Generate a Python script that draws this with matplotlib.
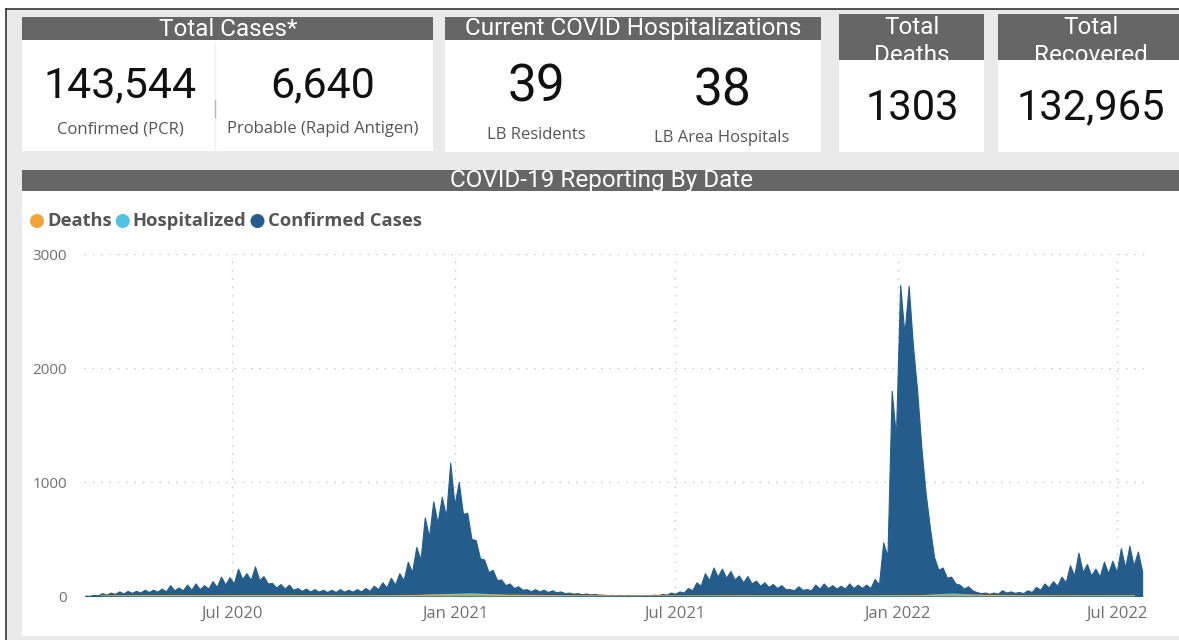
import numpy as np
import matplotlib
matplotlib.use("Agg")
import matplotlib.pyplot as plt
from matplotlib.patches import Rectangle, Circle
import matplotlib.dates as mdates

# ---------------------------
# Data
# ---------------------------
kpi_cases = ["143,544", "6,640"]
kpi_cases_labels = ["Confirmed (PCR)", "Probable (Rapid Antigen)"]
kpi_hosp = ["39", "38"]
kpi_hosp_labels = ["LB Residents", "LB Area Hospitals"]
kpi_deaths = "1303"
kpi_recovered = "132,965"

series_names = ["Deaths", "Hospitalized", "Confirmed Cases"]
series_colors = ["#f2a43a", "#4fc3df", "#245d8c"]

# weekly high / weekly low of daily confirmed cases, weeks starting 2020-03-01
weekly_peak = [
    3, 10, 25, 30, 40, 45, 45, 55, 55, 65,
    95, 75, 100, 110, 95, 130, 170, 165, 240, 200,
    260, 175, 115, 105, 100, 70, 65, 60, 55, 55,
    60, 55, 60, 70, 90, 120, 160, 200, 300, 430,
    690, 830, 870, 1170, 1000, 730, 490, 320, 230, 145,
    110, 85, 60, 60, 55, 50, 40, 30, 25, 22,
    18, 12, 10, 10, 10, 8, 8, 12, 18, 30,
    40, 70, 120, 200, 250, 240, 220, 180, 175, 135,
    120, 105, 95, 60, 85, 60, 100, 110, 95, 90,
    110, 100, 100, 150, 470, 1800, 2730, 2720, 1800, 900,
    340, 250, 170, 100, 85, 35, 30, 30, 50, 40,
    35, 50, 80, 110, 130, 170, 270, 380, 280, 240,
    300, 310, 420, 440, 390,
]
weekly_low = [
    1, 5, 12, 18, 22, 28, 30, 35, 38, 40,
    50, 50, 55, 60, 65, 80, 100, 110, 150, 140,
    140, 110, 75, 65, 55, 45, 40, 38, 35, 35,
    38, 38, 40, 45, 60, 75, 100, 140, 210, 320,
    520, 640, 700, 800, 720, 500, 330, 210, 140, 95,
    70, 55, 42, 40, 35, 32, 25, 20, 16, 14,
    12, 8, 7, 6, 6, 5, 6, 8, 12, 20,
    30, 50, 90, 140, 170, 160, 145, 120, 110, 90,
    80, 70, 60, 50, 55, 50, 65, 70, 65, 65,
    70, 70, 70, 100, 350, 1400, 2300, 2200, 1300, 600,
    230, 160, 110, 65, 50, 25, 20, 20, 30, 28,
    25, 35, 55, 75, 90, 120, 180, 210, 180, 170,
    200, 210, 250, 270, 220,
]
# monthly levels, Mar 2020 .. Jul 2022
monthly_hosp = [2, 5, 6, 6, 12, 8, 4, 3, 6, 20, 30, 12, 5, 3, 2,
                1, 2, 3, 4, 4, 4, 6, 10, 28, 12, 4, 3, 4, 6]
monthly_deaths = [0, 2, 3, 2, 3, 3, 2, 1, 2, 6, 10, 6, 3, 1, 0,
                  0, 0, 1, 1, 1, 1, 1, 2, 4, 4, 2, 1, 1, 1]

x_ticks = ["2020-07-01", "2021-01-01", "2021-07-01", "2022-01-01", "2022-07-01"]
y_ticks = [0, 1000, 2000, 3000]

# ---------------------------
# Figure / background in pixel coords
# ---------------------------
W, H = 1179, 640
fig = plt.figure(figsize=(W / 100, H / 100), dpi=100)
fig.patch.set_facecolor("white")

bg = fig.add_axes([0, 0, 1, 1])
bg.set_xlim(0, W)
bg.set_ylim(H, 0)
bg.axis("off")

HEAD = "#666666"
PANEL = "#eaeaea"
num_font = "Roboto"
txt_font = "Open Sans"
head_size = 17.5

bg.add_patch(Rectangle((6, 9), W, H, facecolor=PANEL, edgecolor="none"))
bg.plot([6, W], [9, 9], color="#333333", lw=1.2)
bg.plot([6, 6], [9, H], color="#333333", lw=1.2)


def card(x0, x1, y_head, y_body, y_end):
    bg.add_patch(Rectangle((x0, y_head), x1 - x0, y_body - y_head, facecolor=HEAD, edgecolor="none"))
    bg.add_patch(Rectangle((x0, y_body), x1 - x0, y_end - y_body, facecolor="white", edgecolor="none"))
    clip = Rectangle((x0, y_head), x1 - x0, y_body - y_head, transform=bg.transData, visible=False)
    bg.add_patch(clip)
    return clip


# Total Cases
card(22, 433, 17, 40, 151)
bg.text(228, 29, "Total Cases*", color="white", fontsize=head_size, family=num_font, ha="center", va="center")
bg.plot([215, 215], [42, 150], color="#f0f0f0", lw=1)
bg.plot([215, 215], [100, 117], color="#b0b8c8", lw=1)
for cx, val, lab in zip([120, 323], kpi_cases, kpi_cases_labels):
    bg.text(cx, 86, val, fontsize=31, family=num_font, color="#111111", ha="center", va="center")
    bg.text(cx, 129, lab, fontsize=12, family=txt_font, color="#555555", ha="center", va="center")

# Current COVID Hospitalizations
card(445, 821, 17, 40, 152)
bg.text(633, 29, "Current COVID Hospitalizations", color="white", fontsize=head_size, family=num_font,
        ha="center", va="center")
for cx, cy, ly, val, lab in zip([536, 722], [88, 91], [135, 138], kpi_hosp, kpi_hosp_labels):
    bg.text(cx, cy, val, fontsize=37, family=num_font, color="#111111", ha="center", va="center")
    bg.text(cx, ly, lab, fontsize=12, family=txt_font, color="#555555", ha="center", va="center")

# Total Deaths / Total Recovered
for (x0, x1), cx, title, val in zip([(839, 984), (998, W)], [912, 1091],
                                    [("Total", "Deaths"), ("Total", "Recovered")],
                                    [kpi_deaths, kpi_recovered]):
    clip = card(x0, x1, 14, 60, 152)
    for ty, t in zip([27, 55], title):
        tt = bg.text(cx, ty, t, color="white", fontsize=head_size, family=num_font, ha="center", va="center")
        tt.set_clip_path(clip)
    bg.text(cx, 108, val, fontsize=30, family=num_font, color="#111111", ha="center", va="center")

# Chart panel
bg.add_patch(Rectangle((22, 170), W - 22, 21, facecolor=HEAD, edgecolor="none"))
bg.add_patch(Rectangle((22, 191), W - 22, 445, facecolor="white", edgecolor="none"))
bg.add_patch(Rectangle((22, 636), W - 22, 4, facecolor=PANEL, edgecolor="none"))
bg.text(602, 180, "COVID-19 Reporting By Date", color="white", fontsize=head_size, family=num_font,
        ha="center", va="center")

# legend
lx = 37
for name, col in zip(series_names, series_colors):
    bg.add_patch(Circle((lx, 221), 7, facecolor=col, edgecolor="none"))
    t = bg.text(lx + 10, 221, name, fontsize=13.2, family=txt_font, fontweight="bold", color="#555555",
                ha="left", va="center")
    fig.canvas.draw()
    bb = t.get_window_extent()
    lx = bb.x1 + 11

# ---------------------------
# Chart
# ---------------------------
ax = fig.add_axes([84 / W, 1 - 596 / H, (1150 - 84) / W, (596 - 254) / H])
ax.set_facecolor("none")

start = np.datetime64("2020-03-01T00", "h")
n = len(weekly_peak)
wk = np.arange(n) * 7 * 24
dates = np.empty(2 * n, dtype="datetime64[h]")
vals = np.empty(2 * n)
dates[0::2] = start + (wk + 24).astype("timedelta64[h]")
dates[1::2] = start + (wk + 108).astype("timedelta64[h]")
vals[0::2] = weekly_peak
vals[1::2] = weekly_low
dates = dates.astype("datetime64[s]").astype(object)

months = np.arange("2020-03", "2022-08", dtype="datetime64[M]").astype("datetime64[D]") + 14
months = months.astype(object)

ax.fill_between(dates, vals, color=series_colors[2], lw=0.8, edgecolor=series_colors[2], zorder=2)
ax.fill_between(months, monthly_hosp, color=series_colors[1], lw=0, alpha=0.9, zorder=3)
ax.plot(months, monthly_deaths, color=series_colors[0], lw=1, zorder=4)

ax.set_xlim(np.datetime64("2020-03-01").astype(object), np.datetime64("2022-07-28").astype(object))
ax.set_ylim(0, 3000)
ax.set_yticks(y_ticks)
ax.set_xticks([np.datetime64(d).astype(object) for d in x_ticks])
ax.xaxis.set_major_formatter(mdates.DateFormatter("%b %Y"))
for s in ax.spines.values():
    s.set_visible(False)
ax.grid(True, color="#c4c4c4", linestyle=(0, (1, 5)), linewidth=1, zorder=0)
ax.set_axisbelow(True)
ax.tick_params(length=0, labelsize=11, colors="#707070")
ax.tick_params(axis="y", pad=12)
ax.tick_params(axis="x", pad=7, labelsize=12)
for lab in ax.get_xticklabels() + ax.get_yticklabels():
    lab.set_family(txt_font)

fig.savefig("out.png", dpi=100, facecolor=fig.get_facecolor())
